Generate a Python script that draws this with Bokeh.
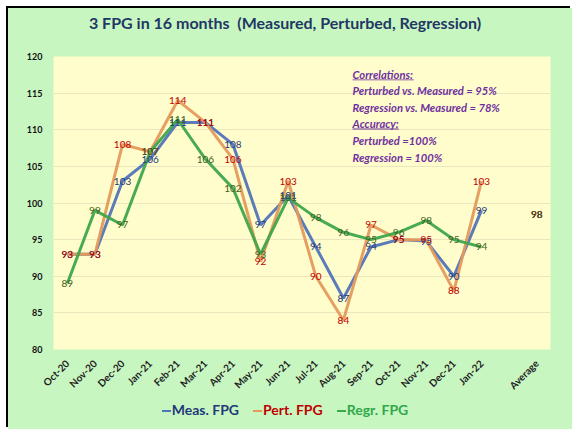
import math
from bokeh.plotting import figure
from bokeh.models import (ColumnDataSource, FactorRange, Label, BoxAnnotation, FixedTicker,
                          Range1d, Div)
from bokeh.layouts import column
from bokeh.core.properties import value
from bokeh.embed import file_html
from bokeh.resources import INLINE

months = ["Oct-20", "Nov-20", "Dec-20", "Jan-21", "Feb-21", "Mar-21", "Apr-21", "May-21",
          "Jun-21", "Jul-21", "Aug-21", "Sep-21", "Oct-21", "Nov-21", "Dec-21", "Jan-22"]
categories = months + [" ", "Average"]

measured = [93, 93, 103, 106, 111, 111, 108, 97, 101, 94, 87, 94, 95, 94.8, 90, 99]
perturbed = [93, 93, 108, 107, 114, 111, 106, 92, 103, 90, 84, 97, 95, 95, 88, 103]
regression = [89, 99, 97, 107, 111.4, 106, 102, 93, 100.7, 98, 96, 95, 96, 97.6, 95, 94]
averages = {"meas": 98.4, "pert": 98.4, "regr": 98.4}

y_ticks = [80, 85, 90, 95, 100, 105, 110, 115, 120]

title_text = "3 FPG in 16 months  (Measured, Perturbed, Regression)"
notes = ["Correlations:", "Perturbed vs. Measured = 95%", "Regression vs. Measured = 78%",
         "Accuracy:", "Perturbed =100%", "Regression = 100%"]

FONT = "Lato"
BG = "#c8f6c1"
FRAME = "#fefdcb"

series = [
    ("Meas. FPG", measured, "meas", "#5274b8", "#1f3a7a", "#1f3a7a"),
    ("Pert. FPG", perturbed, "pert", "#e59a5c", "#c00000", "#c00000"),
    ("Regr. FPG", regression, "regr", "#3ea64b", "#3e5f22", "#30a84a"),
]

p = figure(width=564, height=351, x_range=FactorRange(*categories, range_padding=0),
           y_range=Range1d(80, 120), output_backend="svg", toolbar_location=None,
           min_border_left=45, min_border_right=22, min_border_top=8, min_border_bottom=50,
           background_fill_color=FRAME, border_fill_color=BG, outline_line_color=None,
           margin=(0, 0, 0, 0))

p.xgrid.grid_line_color = None
p.ygrid.grid_line_color = "#ebe6bd"
p.ygrid.grid_line_width = 1

p.yaxis.ticker = FixedTicker(ticks=y_ticks)
p.yaxis.axis_line_color = None
p.yaxis.major_tick_line_color = None
p.yaxis.minor_tick_line_color = None
p.yaxis.major_label_text_font = FONT
p.yaxis.major_label_text_font_style = "bold"
p.yaxis.major_label_text_font_size = "9px"
p.yaxis.major_label_text_color = "#111111"
p.yaxis.major_label_standoff = 5

p.xaxis.axis_line_color = None
p.xaxis.major_tick_line_color = None
p.xaxis.major_label_orientation = math.pi / 4
p.xaxis.major_label_text_font = FONT
p.xaxis.major_label_text_font_style = "bold"
p.xaxis.major_label_text_font_size = "10px"
p.xaxis.major_label_text_color = "#222222"
p.xaxis.major_label_standoff = 6

for name, vals, key, lc, labc, legc in series:
    src = ColumnDataSource(dict(x=months, y=vals))
    p.line("x", "y", source=src, line_color=lc, line_width=3, line_alpha=0.95)

for name, vals, key, lc, labc, legc in series:
    allv = vals + [averages[key]]
    src = ColumnDataSource(dict(x=months + ["Average"], y=allv, t=[f"{v:.0f}" for v in allv]))
    p.text("x", "y", text="t", source=src, text_color=labc, text_font=value(FONT),
           text_font_size="10px", text_align="center", text_baseline="middle")

# Notes block
note_y = [117.6, 115.3, 113.1, 110.9, 108.6, 106.2]
for t, yy in zip(notes, note_y):
    p.add_layout(Label(x=10.83, y=yy, text=t, text_font=FONT, text_font_size="11.2px",
                       text_font_style="bold italic", text_color="#7030a0",
                       text_baseline="middle", text_align="left"))
p.add_layout(BoxAnnotation(left=10.83, right=13.05, bottom=116.75, top=116.87,
                           fill_color="#7030a0", fill_alpha=1, line_color=None))
p.add_layout(BoxAnnotation(left=10.83, right=12.5, bottom=110.05, top=110.17,
                           fill_color="#7030a0", fill_alpha=1, line_color=None))

title = Div(text=title_text, width=564, height=40, margin=(0, 0, 0, 0),
            styles={"background-color": BG, "font-family": FONT, "font-size": "16px",
                    "font-weight": "bold", "color": "#1f3864", "text-align": "center",
                    "line-height": "30px", "white-space": "pre", "box-sizing": "border-box",
                    "padding-right": "10px"})

legend_html = ""
for name, vals, key, lc, labc, legc in series:
    legend_html += (f'<span style="display:inline-block;margin:0 7px;">'
                    f'<span style="display:inline-block;width:9px;height:2px;background:{lc};'
                    f'vertical-align:middle;margin-right:1px;"></span>'
                    f'<span style="color:{legc};">{name}</span></span>')
legend = Div(text=legend_html, width=564, height=30, margin=(0, 0, 0, 0),
             styles={"background-color": BG, "font-family": FONT, "font-size": "14px",
                     "font-weight": "bold", "text-align": "center", "line-height": "22px",
                     "white-space": "nowrap", "box-sizing": "border-box",
                     "padding-right": "10px"})

layout = column(title, p, legend, spacing=0, margin=(8, 0, 0, 8),
                styles={"background-color": BG, "box-shadow": "-2px -2px 0 0 #000"})

open("out.html", "w").write(file_html(layout, INLINE))
